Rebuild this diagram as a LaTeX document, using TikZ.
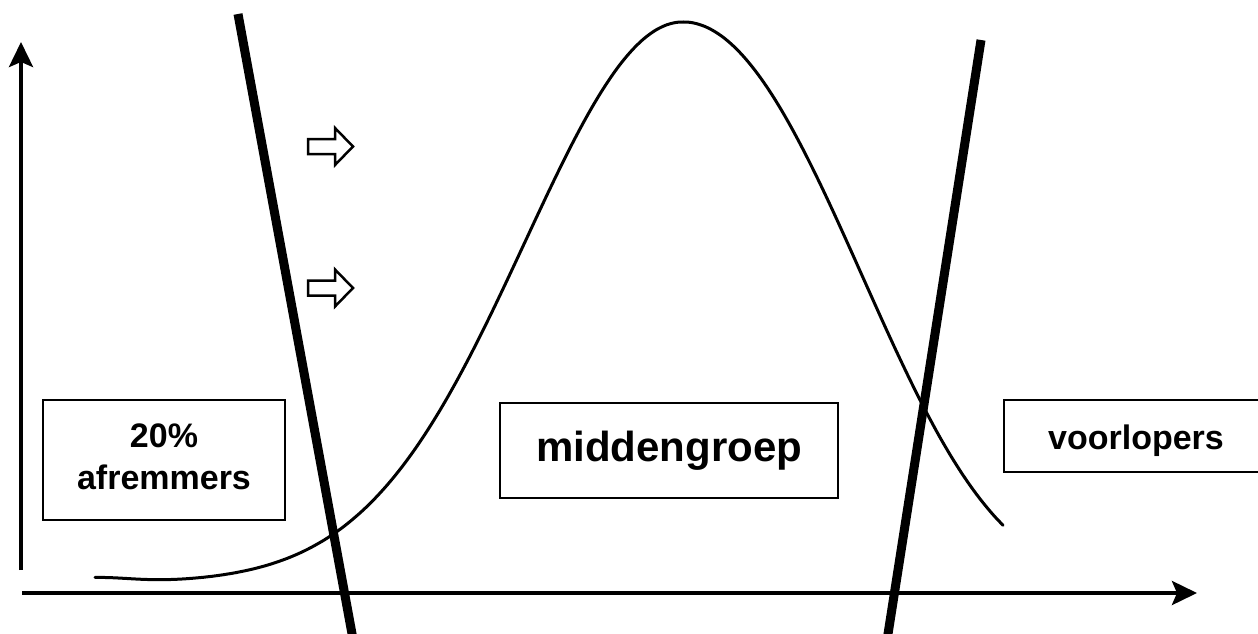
\documentclass[tikz,border=0pt]{standalone}
\usepackage{fontspec}
\setmainfont{Liberation Sans}
\usetikzlibrary{arrows.meta}
\begin{document}
\begin{tikzpicture}[x=1pt,y=-1pt,
  axis/.style={line width=4pt,-{Stealth[length=25pt,width=24pt,inset=5pt]}},
  divider/.style={line width=9pt},
  bellcurve/.style={line width=3pt,line cap=round},
  labelbox/.style={draw,line width=2pt,inner sep=0pt},
  labeltext/.style={align=center,inner sep=0pt,font=\bfseries\fontsize{34}{42}\selectfont},
  hollowarrow/.style={draw,line width=2.5pt,line join=miter},
  declare function={
    uu(\t)=(\t-683)/100;
    bell(\t)=583-561*((\t<683) ? exp(-uu(\t)*uu(\t)/5.015) : exp(-(0.1719*uu(\t)*uu(\t)+0.0049*uu(\t)*uu(\t)*uu(\t)*uu(\t))))-5*exp(-((\t-95)/50)*((\t-95)/50));}]
\useasboundingbox (0,0) rectangle (1258,634);
% axes
\coordinate (ybot) at (21,570);
\coordinate (ytop) at (21,42);
\coordinate (xleft) at (22,593);
\coordinate (xright) at (1197,593);
\draw[axis] (ybot) -- (ytop);
\draw[axis] (xleft) -- (xright);
% bell curve
\draw[bellcurve] plot[domain=95:1003,samples=220,smooth] (\x,{bell(\x)});
% dividers
\coordinate (ltop) at (238,14);
\coordinate (lbot) at (355,650);
\coordinate (rtop) at (981,40);
\coordinate (rbot) at (885.5,650);
\draw[divider] (ltop) -- (lbot);
\draw[divider] (rtop) -- (rbot);
% hollow arrows
\draw[hollowarrow] (308,139) -- (335,139) -- (335,128) -- (353,146.5) -- (335,165) -- (335,154) -- (308,154) -- cycle;
\draw[hollowarrow] (308,280.5) -- (335,280.5) -- (335,269.5) -- (353,288) -- (335,306.5) -- (335,295.5) -- (308,295.5) -- cycle;
% boxes
\node[labelbox,minimum width=242pt,minimum height=120pt] (afr) at (164,460) {};
\node[labeltext] (afrtext) at ([yshift=3pt]afr.center) {20\%\\afremmers};
\node[labelbox,minimum width=338pt,minimum height=95pt] (mid) at (669,450.5) {};
\node[labeltext,font=\bfseries\fontsize{42}{50}\selectfont] (midtext) at (mid.center) {middengroep};
\node[labelbox,minimum width=264pt,minimum height=72pt] (voor) at (1136,436) {};
\node[labeltext] (voortext) at ([yshift=-5pt]voor.center) {voorlopers};
\end{tikzpicture}
\end{document}
